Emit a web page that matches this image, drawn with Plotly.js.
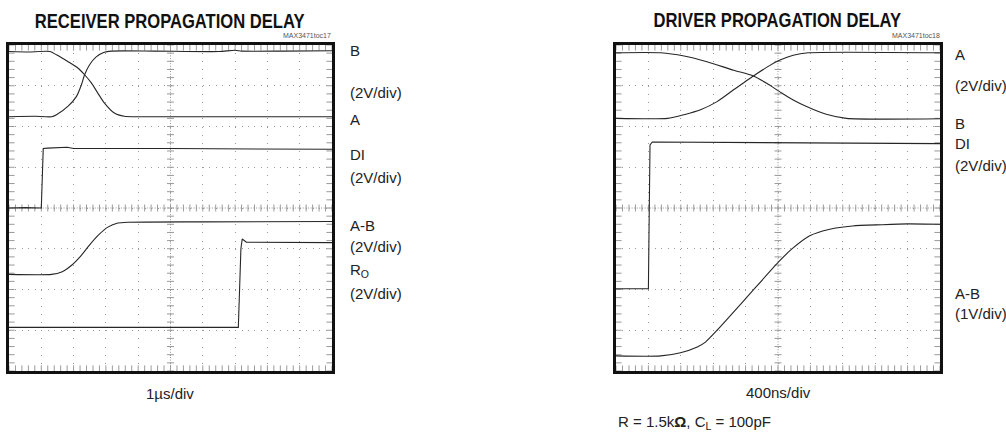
<!DOCTYPE html>
<html>
<head>
<meta charset="utf-8">
<script src="https://cdn.plot.ly/plotly-3.0.1.min.js"></script>
<style>
  html, body { margin: 0; padding: 0; background: #fff; }
  #chart { width: 1006px; height: 433px; }
</style>
</head>
<body>
<div id="chart"></div>
<script>
// ---------- DATA (x in divisions, y in divisions) ----------
// Receiver propagation delay, 1 us/div
const rxB_x  = [0, 0.8, 1.32, 1.47, 1.83, 2.09, 2.24, 2.34, 2.49, 2.70, 2.95, 3.16, 4.5, 6.5, 7.0, 7.2, 8.5, 10];
const rxB_y  = [6.24, 6.25, 6.24, 6.29, 6.50, 6.74, 7.02, 7.27, 7.51, 7.71, 7.82, 7.85, 7.85, 7.84, 7.87, 7.85, 7.85, 7.86];
const rxA_x  = [0, 0.6, 1.27, 1.47, 1.83, 2.14, 2.34, 2.55, 2.75, 2.95, 3.26, 3.57, 3.87, 6.0, 10];
const rxA_y  = [7.84, 7.83, 7.84, 7.76, 7.59, 7.43, 7.27, 7.07, 6.82, 6.58, 6.33, 6.25, 6.24, 6.24, 6.24];
const rxDI_x = [0, 0.5, 1.0, 1.03, 1.06, 1.2, 1.8, 2.0, 5.0, 10];
const rxDI_y = [4.0, 4.01, 4.0, 4.6, 5.46, 5.47, 5.49, 5.46, 5.46, 5.44];
const rxAB_x = [0, 1.32, 1.63, 1.93, 2.24, 2.44, 2.75, 3.06, 3.37, 3.67, 6.0, 10];
const rxAB_y = [2.37, 2.37, 2.43, 2.59, 2.84, 3.04, 3.32, 3.53, 3.63, 3.65, 3.66, 3.67];
const rxRO_x = [0, 3.0, 5.0, 7.10, 7.18, 7.22, 7.35, 8.5, 10];
const rxRO_y = [1.07, 1.07, 1.07, 1.07, 3.0, 3.24, 3.16, 3.16, 3.15];

// Driver propagation delay, 400 ns/div
const txA_x  = [0, 1.59, 2.10, 2.61, 3.12, 3.63, 4.24, 4.75, 5.06, 5.47, 5.93, 10];
const txA_y  = [6.20, 6.20, 6.29, 6.41, 6.61, 6.90, 7.24, 7.50, 7.63, 7.75, 7.81, 7.81];
const txB_x  = [0, 1.38, 2.10, 2.81, 3.63, 4.24, 4.65, 5.06, 5.47, 5.88, 6.49, 7.11, 10];
const txB_y  = [7.81, 7.81, 7.73, 7.59, 7.38, 7.24, 7.06, 6.85, 6.65, 6.49, 6.30, 6.20, 6.19];
const txDI_x = [0, 1.0, 1.02, 1.05, 1.12, 3.0, 5.0, 10];
const txDI_y = [2.02, 2.02, 3.5, 5.55, 5.62, 5.61, 5.59, 5.58];
const txAB_x = [0, 1.38, 1.99, 2.51, 2.76, 3.12, 4.04, 5.01, 5.42, 5.98, 6.6, 7.3, 8.2, 9.0, 10];
const txAB_y = [0.37, 0.37, 0.45, 0.59, 0.71, 1.0, 1.81, 2.67, 2.99, 3.32, 3.48, 3.56, 3.59, 3.61, 3.60];

// labels
const rxTitle = "RECEIVER PROPAGATION DELAY";
const txTitle = "DRIVER PROPAGATION DELAY";
const rxCode = "MAX3471toc17";
const txCode = "MAX3471toc18";
const rxLabels = ["B", "(2V/div)", "A", "DI", "(2V/div)", "A-B", "(2V/div)", "R<sub>O</sub>", "(2V/div)"];
const txLabels = ["A", "(2V/div)", "B", "DI", "(2V/div)", "A-B", "(1V/div)"];
const rxTime = "1\u00b5s/div";
const txTime = "400ns/div";
const txNote = "R = 1.5k<b>\u03a9</b>, C<sub>L</sub> = 100pF";

// ---------- LAYOUT ----------
const W = 1006, H = 433;
const X_DIVS = 10, Y_DIVS = 8;
const plotTop = 45, plotBottom = 371;
const panels = [{l: 9, r: 332}, {l: 616, r: 940}];
const px = v => v / W, py = v => 1 - v / H;

const traceColor = '#262626';
const traces = [];
function wave(x, y, ax, smooth) {
  traces.push({x, y, xaxis: ax.x, yaxis: ax.y, type: 'scatter', mode: 'lines',
    line: {color: traceColor, width: 1.1, shape: smooth ? 'spline' : 'linear', smoothing: 0.6},
    hoverinfo: 'skip', showlegend: false});
}
const A1 = {x: 'x', y: 'y'}, A2 = {x: 'x2', y: 'y2'};

// graticule tick marks (generated from division counts)
function graticule(ax) {
  const hx = [], hy = [], vx = [], vy = [], ex = [], ey = [], fx = [], fy = [];
  for (let k = 0; k <= X_DIVS * 5; k++) {
    const xv = k / 5;
    hx.push(xv); hy.push(Y_DIVS / 2);
    ex.push(xv, xv); ey.push(0, Y_DIVS);
  }
  for (let k = 0; k <= Y_DIVS * 5; k++) {
    const yv = k / 5;
    vx.push(X_DIVS / 2); vy.push(yv);
    fx.push(0, X_DIVS); fy.push(yv, yv);
  }
  const base = {xaxis: ax.x, yaxis: ax.y, type: 'scatter', mode: 'markers', hoverinfo: 'skip', showlegend: false};
  const mk = (sym, size) => ({symbol: sym, size, color: '#9a9a9a', line: {width: 1, color: '#9a9a9a'}});
  traces.push(Object.assign({}, base, {x: hx, y: hy, marker: mk('line-ns', 5)}));
  traces.push(Object.assign({}, base, {x: vx, y: vy, marker: mk('line-ew', 5)}));
  traces.push(Object.assign({}, base, {x: ex, y: ey, marker: mk('line-ns', 8)}));
  traces.push(Object.assign({}, base, {x: fx, y: fy, marker: mk('line-ew', 8)}));
}
graticule(A1);
graticule(A2);

wave(rxB_x, rxB_y, A1, true);
wave(rxA_x, rxA_y, A1, true);
wave(rxDI_x, rxDI_y, A1, false);
wave(rxAB_x, rxAB_y, A1, true);
wave(rxRO_x, rxRO_y, A1, false);
wave(txA_x, txA_y, A2, true);
wave(txB_x, txB_y, A2, true);
wave(txDI_x, txDI_y, A2, false);
wave(txAB_x, txAB_y, A2, true);

function xAxis(p) {
  return {domain: [px(p.l), px(p.r)], range: [0, X_DIVS], dtick: 1, tick0: 0,
    showgrid: true, gridcolor: '#9a9a9a', gridwidth: 1, griddash: '1px,7.15px',
    showticklabels: false, ticks: '', zeroline: false,
    showline: true, linewidth: 3, linecolor: '#111', mirror: true, fixedrange: true};
}
function yAxis(anchor) {
  return {domain: [py(plotBottom), py(plotTop)], range: [0, Y_DIVS], dtick: 1, tick0: 0, anchor,
    showgrid: true, gridcolor: '#9a9a9a', gridwidth: 1, griddash: '1px,5.46px',
    showticklabels: false, ticks: '', zeroline: false,
    showline: true, linewidth: 3, linecolor: '#111', mirror: true, fixedrange: true};
}

const shapes = [];
[['x', 'y'], ['x2', 'y2']].forEach(([xr, yr]) => {
  shapes.push({type: 'line', xref: xr, yref: yr, x0: X_DIVS / 2, x1: X_DIVS / 2, y0: 0, y1: Y_DIVS,
    line: {color: '#9a9a9a', width: 1, dash: '1px,1.6px'}, layer: 'below'});
  shapes.push({type: 'line', xref: xr, yref: yr, x0: 0, x1: X_DIVS, y0: Y_DIVS / 2, y1: Y_DIVS / 2,
    line: {color: '#9a9a9a', width: 1, dash: '1px,1.6px'}, layer: 'below'});
});

const textFont = {family: 'Liberation Sans, Arial, sans-serif', size: 15, color: '#222'};
const titleFont = {family: 'Liberation Sans, Arial, sans-serif', size: 20, color: '#111', weight: 'bold'};
const codeFont = {family: 'Liberation Sans, sans-serif', size: 7, color: '#555'};

const ann = [];
function addText(text, x, y, font, xanchor, pad) {
  ann.push({text, x: px(x), y: py(y), xref: 'paper', yref: 'paper', showarrow: false,
    xanchor: xanchor || 'center', yanchor: 'middle', font, borderpad: pad === undefined ? 1 : pad});
}
addText('<b>' + rxTitle + '</b>', 170, 21, titleFont, 'center', 0);
addText('<b>' + txTitle + '</b>', 777, 20, titleFont, 'center', 0);
addText(rxCode, 332, 36, codeFont, 'right', 0);
addText(txCode, 941, 36, codeFont, 'right', 0);
const rxLabY = [50, 92, 120, 155, 177, 225, 247, 270, 293];
rxLabels.forEach((t, i) => addText(t, 348, rxLabY[i], textFont, 'left'));
const txLabY = [55, 85, 123, 143, 165, 293, 313];
txLabels.forEach((t, i) => addText(t, 954, txLabY[i], textFont, 'left', 0));
addText(rxTime, 170, 393, textFont);
addText(txTime, 778, 392, textFont);
addText(txNote, 616, 422, textFont, 'left');

const layout = {
  width: W, height: H, margin: {l: 0, r: 0, t: 0, b: 0},
  paper_bgcolor: '#fff', plot_bgcolor: '#fff', showlegend: false,
  xaxis: Object.assign(xAxis(panels[0]), {anchor: 'y'}),
  yaxis: yAxis('x'),
  xaxis2: Object.assign(xAxis(panels[1]), {anchor: 'y2'}),
  yaxis2: yAxis('x2'),
  shapes, annotations: ann
};
Plotly.newPlot('chart', traces, layout, {staticPlot: true, displayModeBar: false}).then(gd => {
  // condense the two bold titles horizontally (narrow-face look)
  [0, 1].forEach(i => {
    const t = gd.querySelector('g.annotation[data-index="' + i + '"] text.annotation-text');
    if (!t) return;
    const bb = t.getBBox();
    const cx = bb.x + bb.width / 2;
    t.setAttribute('transform', 'translate(' + cx + ',0) scale(0.83,1) translate(' + (-cx) + ',0)');
  });
});
</script>
</body>
</html>
